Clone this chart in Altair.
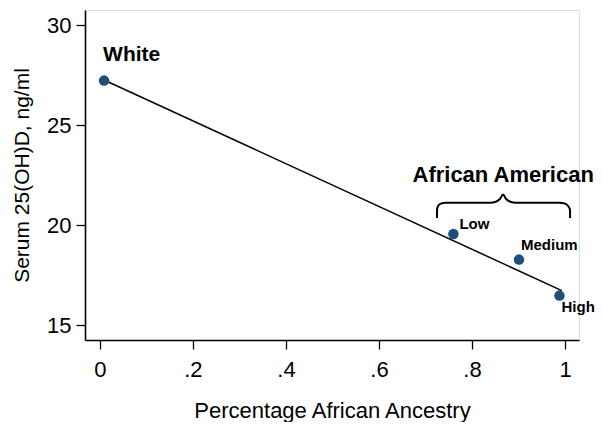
import altair as alt
import pandas as pd

# Data
groups = ["White", "Low", "Medium", "High"]
ancestry = [0.009, 0.760, 0.901, 0.988]
vitd = [27.22, 19.55, 18.27, 16.47]

# Fitted line (two ends)
fit_x = [0.009, 0.993]
fit_y = [27.25, 16.72]

# Brace annotation outline (data coordinates)
brace_x = [0.7247, 0.7247, 0.7270, 0.7330, 0.7440, 0.8390, 0.8510, 0.8600, 0.8667,
           0.8734, 0.8824, 0.8944, 0.9890, 1.0000, 1.0065, 1.0108, 1.0108]
brace_y = [20.35, 20.75, 20.95, 21.07, 21.11, 21.11, 21.16, 21.30, 21.52,
           21.30, 21.16, 21.11, 21.11, 21.07, 20.95, 20.75, 20.35]

group_label = ["African American"]
group_x = [0.867]
group_y = [22.5]

pts = pd.DataFrame({"g": groups, "x": ancestry, "y": vitd})
fit = pd.DataFrame({"x": fit_x, "y": fit_y})
brace = pd.DataFrame({"x": brace_x, "y": brace_y, "o": list(range(len(brace_x)))})
grp = pd.DataFrame({"t": group_label, "x": group_x, "y": group_y})

FONT = "Liberation Sans"
W, H = 494, 330

xs = alt.Scale(domain=[-0.032, 1.030], nice=False, zero=False)
ys = alt.Scale(domain=[14.25, 30.75], nice=False, zero=False)

xax = alt.Axis(
    values=[0, 0.2, 0.4, 0.6, 0.8, 1],
    labelExpr="datum.value == 0 ? '0' : datum.value == 1 ? '1' : replace(format(datum.value, '.1f'), '0.', '.')",
    title="Percentage African Ancestry",
    grid=False, tickSize=9, tickColor="black", tickWidth=1.3,
    domainColor="black", domainWidth=1.6,
    labelFont=FONT, labelFontSize=22, labelColor="black", labelPadding=10,
    titleFont=FONT, titleFontSize=22, titleFontWeight="normal", titleColor="black",
    titleY=70, titleBaseline="middle",
)
yax = alt.Axis(
    values=[15, 20, 25, 30],
    title="Serum 25(OH)D, ng/ml",
    grid=False, tickSize=9, tickColor="black", tickWidth=1.3,
    domainColor="black", domainWidth=1.6,
    labelFont=FONT, labelFontSize=22, labelColor="black", labelPadding=5,
    titleFont=FONT, titleFontSize=21, titleFontWeight="normal", titleColor="black",
    titleX=-63, titleY=165, titleAngle=-90, titleBaseline="middle", titleAlign="center",
)

line = alt.Chart(fit).mark_line(color="black", strokeWidth=1.5).encode(
    x=alt.X("x:Q", scale=xs, axis=xax), y=alt.Y("y:Q", scale=ys, axis=yax)
)

points = alt.Chart(pts).mark_circle(size=110, color="#1F4E79", opacity=1).encode(
    x=alt.X("x:Q", scale=xs), y=alt.Y("y:Q", scale=ys)
)

def label(name, dx, dy, size, align="left"):
    return alt.Chart(pts).transform_filter(alt.datum.g == name).mark_text(
        font=FONT, fontWeight="bold", fontSize=size, color="black",
        align=align, baseline="middle", dx=dx, dy=dy,
    ).encode(x=alt.X("x:Q", scale=xs), y=alt.Y("y:Q", scale=ys), text="g:N")

lbl_white = label("White", -1, -26, 21)
lbl_low = label("Low", 6, -10, 15)
lbl_med = label("Medium", 2, -15, 15)
lbl_high = label("High", 2, 11, 15)

brace_line = alt.Chart(brace).mark_line(color="black", strokeWidth=2, interpolate="monotone").encode(
    x=alt.X("x:Q", scale=xs), y=alt.Y("y:Q", scale=ys), order="o:Q"
)

grp_text = alt.Chart(grp).mark_text(
    font=FONT, fontWeight="bold", fontSize=22, color="black", align="center", baseline="middle"
).encode(x=alt.X("x:Q", scale=xs), y=alt.Y("y:Q", scale=ys), text="t:N")

chart = alt.layer(
    line, brace_line, points, lbl_white, lbl_low, lbl_med, lbl_high, grp_text
).properties(
    width=W, height=H,
    autosize=alt.AutoSizeParams(type="none"),
    padding={"left": 77, "top": 2, "right": 16, "bottom": 82},
).configure_view(stroke=None).configure(background="white")

chart.save("out.html", embed_options={"renderer": "svg", "actions": False})
